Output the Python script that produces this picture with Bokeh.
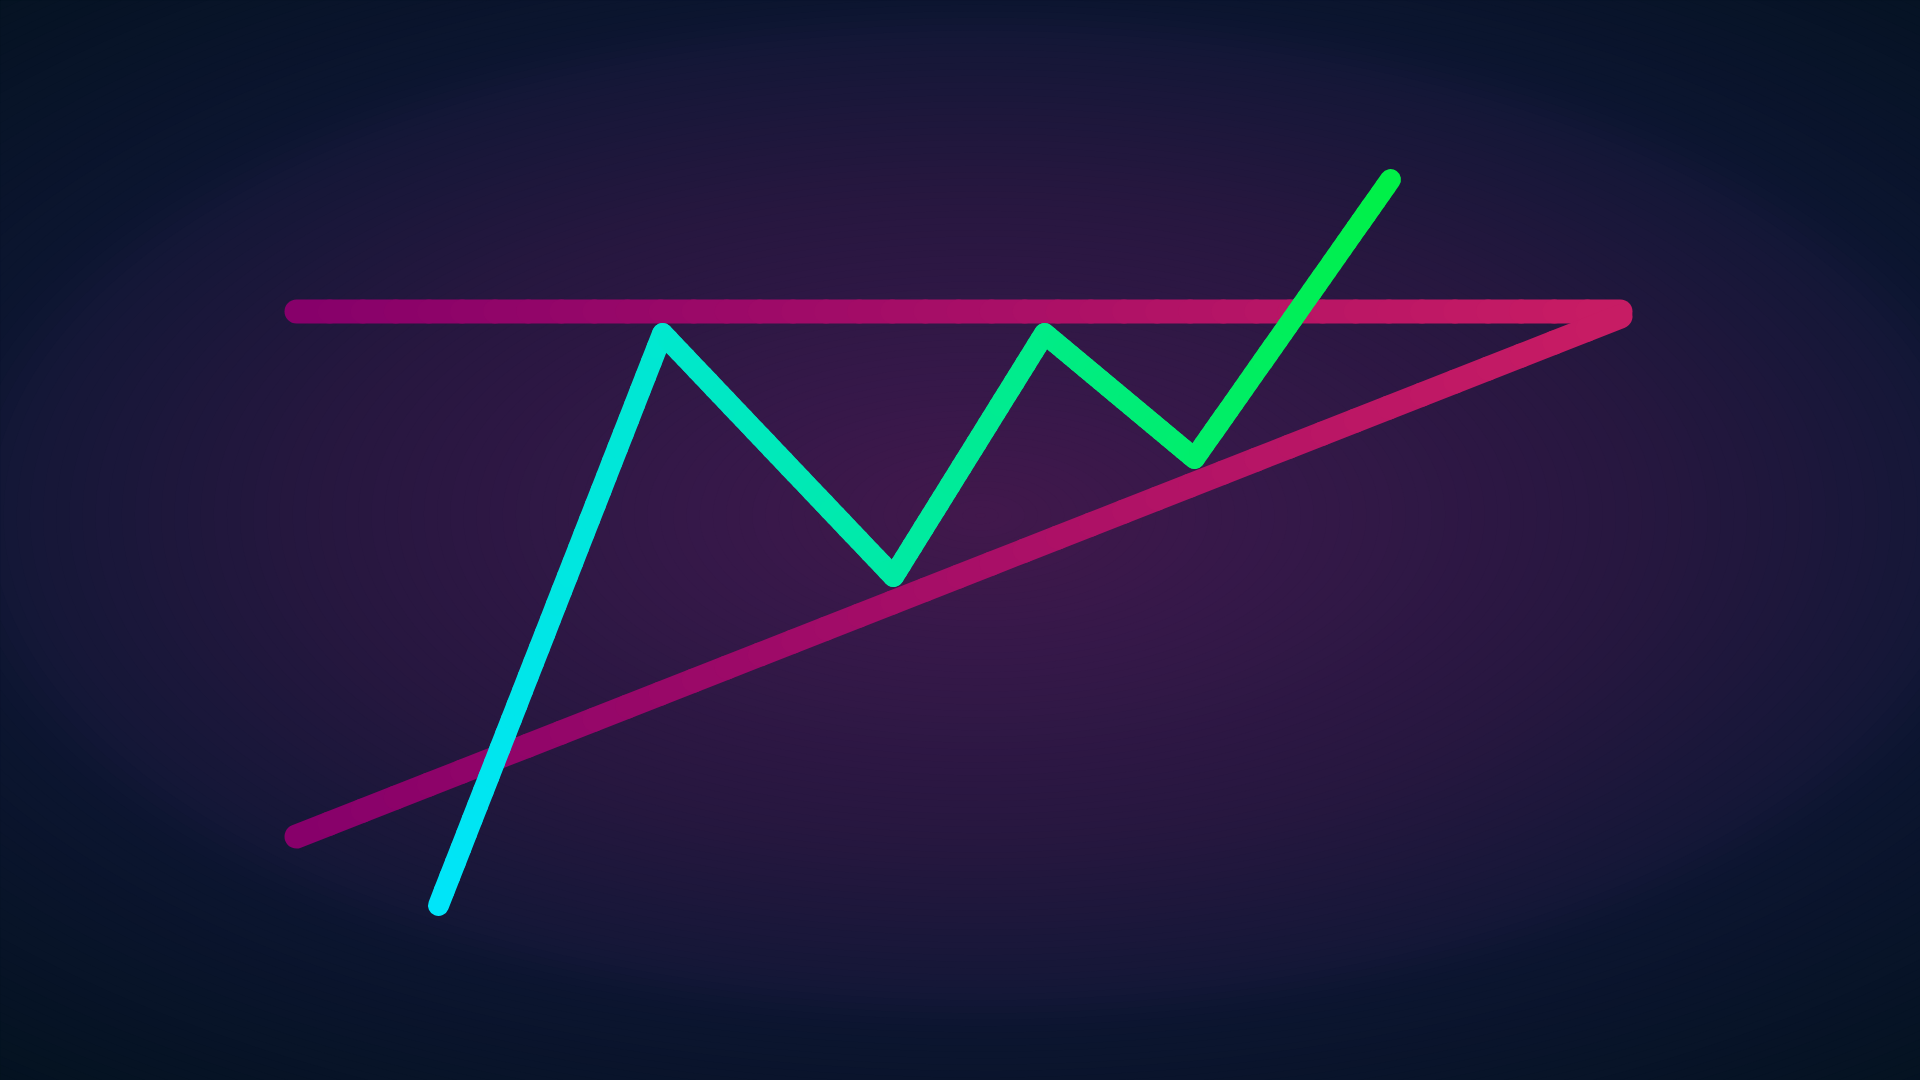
import numpy as np
from bokeh.plotting import figure
from bokeh.models import Range1d
from bokeh.embed import file_html
from bokeh.resources import INLINE

# ---- data (chart units: x = time position, y = price level) ----
price_x = [438, 662, 893, 1044, 1194, 1390]
price_y = [175, 747, 504, 747, 622, 901]

resistance_x = [296, 1620]
resistance_y = [769, 769]

support_x = [296, 1620]
support_y = [244, 764]

# ---- style ----
BG_EDGE = "#03121f"
price_c0 = np.array([0, 229, 250])
price_c1 = np.array([0, 240, 72])
tri_c0 = np.array([134, 0, 106])
tri_c1 = np.array([200, 28, 100])


def hexc(c):
    c = np.clip(np.round(c), 0, 255).astype(int)
    return "#%02x%02x%02x" % tuple(c)


p = figure(width=1920, height=1080, output_backend="svg", toolbar_location=None,
           x_range=Range1d(0, 1920), y_range=Range1d(0, 1080),
           min_border=0, outline_line_color=None,
           background_fill_color=BG_EDGE, border_fill_color=BG_EDGE)
p.axis.visible = False
p.grid.visible = False

# ---- radial background glow ----
stops_r = [0.0, 0.28, 0.69, 1.0, 1.07, 1.6]
stops_c = np.array([[66, 24, 76], [54, 24, 73], [38, 23, 63], [20, 23, 55], [12, 21, 48], [3, 18, 31]])
cx, cy, a, b = 980, 565, 980, 480
rs = np.linspace(1.6, 0.005, 120)
cols = [hexc([np.interp(r, stops_r, stops_c[:, k]) for k in range(3)]) for r in rs]
p.ellipse(x=[cx] * len(rs), y=[cy] * len(rs), width=list(2 * a * rs), height=list(2 * b * rs),
          fill_color=cols, line_color=None)


def gradient_segments(xs, ys, c0, c1, xmin, xmax, n=40):
    x0s, y0s, x1s, y1s, cs = [], [], [], [], []
    for i in range(len(xs) - 1):
        t = np.linspace(0, 1, n + 1)
        sx = xs[i] + (xs[i + 1] - xs[i]) * t
        sy = ys[i] + (ys[i + 1] - ys[i]) * t
        for j in range(n):
            x0s.append(sx[j]); y0s.append(sy[j]); x1s.append(sx[j + 1]); y1s.append(sy[j + 1])
            f = ((sx[j] + sx[j + 1]) / 2 - xmin) / (xmax - xmin)
            cs.append(hexc(c0 + (c1 - c0) * f))
    return x0s, y0s, x1s, y1s, cs


for lx, ly in [(resistance_x, resistance_y), (support_x, support_y)]:
    x0, y0, x1, y1, cs = gradient_segments(lx, ly, tri_c0, tri_c1, 296, 1620)
    p.segment(x0, y0, x1, y1, line_color=cs, line_width=24, line_cap="round")

x0, y0, x1, y1, cs = gradient_segments(price_x, price_y, price_c0, price_c1, 438, 1390)
p.segment(x0, y0, x1, y1, line_color=cs, line_width=21, line_cap="round")

html = file_html(p, INLINE)
style = "<style>html,body{background:%s;margin:0;padding:0;overflow:hidden}</style>" % BG_EDGE
if "</head>" in html:
    html = html.replace("</head>", style + "</head>", 1)
else:
    html = style + html
open("out.html", "w").write(html)
